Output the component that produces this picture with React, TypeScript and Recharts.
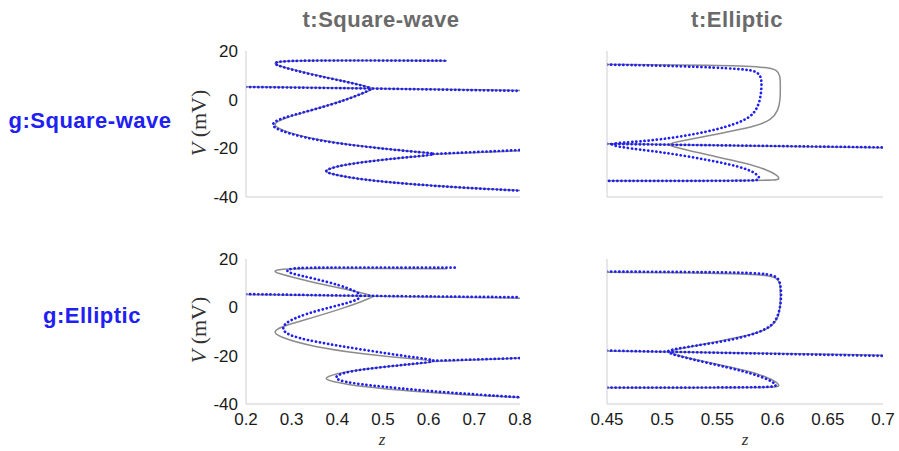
import { LineChart, Line, XAxis, YAxis } from "recharts";

// values as [z, V(mV)] pairs, in path order
const sqTargetMain: [number, number][] = [
  [0.64, 16.0], [0.5, 16.1], [0.35, 16.1], [0.285, 15.9], [0.258, 15.2], [0.27, 14.0],
  [0.3, 12.6], [0.347, 10.3], [0.42, 7.4], [0.465, 5.4], [0.483, 4.5], [0.466, 3.4],
  [0.42, 0.0], [0.347, -4.2], [0.285, -7.5], [0.258, -9.8], [0.27, -12.2], [0.347, -16.4],
  [0.457, -19.3], [0.566, -21.4], [0.634, -22.4], [0.566, -23.4], [0.493, -24.8],
  [0.406, -26.9], [0.368, -29.2], [0.384, -30.6], [0.457, -33.0], [0.566, -34.8],
  [0.675, -36.2], [0.8, -37.3],
];
const sqTargetFlatA: [number, number][] = [[0.2, 5.3], [0.483, 4.6], [0.8, 3.8]];
const sqTargetFlatB: [number, number][] = [[0.612, -22.4], [0.8, -21.0]];

const ellTargetMain: [number, number][] = [
  [0.45, 14.5], [0.55, 14.2], [0.595, 13.4], [0.604, 12.2], [0.607, 10.0], [0.607, 5.0],
  [0.607, 0.0], [0.605, -4.5], [0.599, -8.3], [0.585, -10.8], [0.565, -12.8], [0.534, -15.5],
  [0.515, -17.2], [0.504, -18.3], [0.512, -19.7], [0.543, -22.9], [0.575, -26.0],
  [0.595, -28.8], [0.604, -31.0], [0.607, -32.8], [0.6, -33.3], [0.45, -33.3],
];
const ellTargetFlat: [number, number][] = [[0.45, -18.1], [0.504, -18.4], [0.7, -19.8]];

// g:Square-wave response, t:Square-wave
const sqOnSqMain: [number, number][] = [
  [0.635, 16.0], [0.5, 16.1], [0.35, 16.1], [0.285, 15.9], [0.256, 15.2], [0.274, 13.6],
  [0.347, 10.1], [0.42, 7.4], [0.464, 5.3], [0.477, 4.6], [0.464, 3.3], [0.42, -0.1],
  [0.347, -4.2], [0.274, -7.7], [0.254, -10.0], [0.267, -12.5], [0.347, -16.6],
  [0.457, -19.3], [0.566, -21.4], [0.632, -22.3], [0.566, -23.4], [0.493, -24.8],
  [0.406, -26.9], [0.368, -29.2], [0.384, -30.5], [0.457, -33.0], [0.566, -34.8],
  [0.675, -36.2], [0.8, -37.4],
];
const sqOnSqFlatA: [number, number][] = [[0.2, 5.2], [0.477, 4.6], [0.8, 3.6]];
const sqOnSqFlatB: [number, number][] = [[0.61, -22.3], [0.8, -20.7]];

// g:Square-wave response, t:Elliptic
const sqOnEllMain: [number, number][] = [
  [0.45, 14.4], [0.52, 13.8], [0.575, 12.6], [0.586, 11.6], [0.59, 9.0], [0.59, 5.3],
  [0.589, -0.1], [0.584, -5.6], [0.573, -9.1], [0.543, -13.2], [0.498, -16.6],
  [0.462, -17.7], [0.451, -18.3], [0.462, -19.6], [0.498, -21.4], [0.543, -24.8],
  [0.577, -28.2], [0.587, -31.0], [0.589, -33.0], [0.58, -33.4], [0.45, -33.4],
];
const sqOnEllFlat: [number, number][] = [[0.45, -18.2], [0.7, -19.6]];

// g:Elliptic response, t:Square-wave
const ellOnSqMain: [number, number][] = [
  [0.657, 16.4], [0.5, 16.5], [0.33, 16.5], [0.296, 16.0], [0.288, 15.2], [0.296, 14.1],
  [0.347, 12.0], [0.406, 9.2], [0.442, 6.5], [0.455, 4.7], [0.442, 2.8], [0.391, 0.3],
  [0.333, -2.5], [0.289, -5.9], [0.278, -8.7], [0.289, -11.4], [0.347, -14.2],
  [0.457, -17.6], [0.566, -20.7], [0.632, -22.1], [0.566, -23.4], [0.493, -24.8],
  [0.42, -26.6], [0.391, -28.7], [0.406, -30.8], [0.493, -32.8], [0.639, -35.3],
  [0.8, -37.2],
];
const ellOnSqFlatA: [number, number][] = [[0.2, 5.5], [0.455, 4.7], [0.8, 4.2]];
const ellOnSqFlatB: [number, number][] = [[0.61, -22.1], [0.8, -21.0]];

// g:Elliptic response, t:Elliptic
const ellOnEllMain: [number, number][] = [
  [0.45, 14.8], [0.55, 14.6], [0.595, 14.1], [0.604, 12.6], [0.607, 10.5], [0.608, 5.0],
  [0.607, 0.3], [0.604, -5.2], [0.595, -9.4], [0.565, -13.5], [0.528, -16.0],
  [0.507, -17.6], [0.504, -18.3], [0.51, -19.7], [0.543, -23.2], [0.576, -26.6],
  [0.598, -30.0], [0.605, -32.6], [0.598, -33.2], [0.45, -33.2],
];
const ellOnEllFlat: [number, number][] = [[0.45, -17.9], [0.7, -20.1]];

const vTicks = [-40, -20, 0, 20];
const zTicksSquare = [0.2, 0.3, 0.4, 0.5, 0.6, 0.7, 0.8];
const zTicksElliptic = [0.45, 0.5, 0.55, 0.6, 0.65, 0.7];

const toPts = (arr: [number, number][]) => arr.map(([z, V]) => ({ z, V }));

const GRAY = "#8c8c8c";
const BLUE = "#1e1ef2";
const AXIS = "#cfcfcf";
const TICK_FONT = { fontSize: 17, fill: "#1a1a1a", fontFamily: "Liberation Sans, Arial, sans-serif" };

interface PanelProps {
  x0: number;
  y0: number;
  x1: number;
  y1: number;
  zDomain: [number, number];
  zTicks: number[];
  showZTicks: boolean;
  showVTicks: boolean;
  target: [number, number][][];
  response: [number, number][][];
}

const PAD_L = 60;
const PAD_R = 20;
const PAD_T = 10;
const PAD_B = 40;

const Panel = ({ x0, y0, x1, y1, zDomain, zTicks, showZTicks, showVTicks, target, response }: PanelProps) => {
  const width = x1 - x0 + PAD_L + PAD_R;
  const height = y1 - y0 + PAD_T + PAD_B;
  return (
    <div style={{ position: "absolute", left: x0 - PAD_L, top: y0 - PAD_T }}>
      <LineChart width={width} height={height} margin={{ top: PAD_T, right: PAD_R, left: 0, bottom: 0 }}>
        <XAxis
          type="number"
          dataKey="z"
          domain={zDomain}
          ticks={zTicks}
          allowDataOverflow
          height={PAD_B}
          stroke={AXIS}
          tickLine={false}
          tickMargin={3}
          tick={showZTicks ? TICK_FONT : false}
        />
        <YAxis
          type="number"
          dataKey="V"
          domain={[-40, 20]}
          ticks={vTicks}
          allowDataOverflow
          width={PAD_L}
          stroke={AXIS}
          tickLine={false}
          tick={showVTicks ? TICK_FONT : false}
        />
        {target.map((seg, i) => (
          <Line
            key={`t${i}`}
            data={toPts(seg)}
            dataKey="V"
            type="basis"
            stroke={GRAY}
            strokeWidth={1.5}
            dot={false}
            activeDot={false}
            isAnimationActive={false}
          />
        ))}
        {response.map((seg, i) => (
          <Line
            key={`r${i}`}
            data={toPts(seg)}
            dataKey="V"
            type="basis"
            stroke={BLUE}
            strokeWidth={2.7}
            strokeDasharray="0.1 4"
            strokeLinecap="round"
            dot={false}
            activeDot={false}
            isAnimationActive={false}
          />
        ))}
      </LineChart>
    </div>
  );
};

const titleStyle = {
  fontFamily: "Liberation Sans, Arial, sans-serif",
  fontWeight: 700,
  fontSize: 22,
  letterSpacing: 0.5,
};
const serif = "Liberation Serif, Times New Roman, serif";

const App = () => {
  const sqTarget = [sqTargetMain, sqTargetFlatA, sqTargetFlatB];
  const ellTarget = [ellTargetMain, ellTargetFlat];
  return (
    <div style={{ position: "absolute", left: 0, top: 0, width: 899, height: 451, background: "#fff", overflow: "hidden" }}>
      <Panel x0={246} y0={51} x1={520} y1={197} zDomain={[0.2, 0.8]} zTicks={zTicksSquare}
        showZTicks={false} showVTicks target={sqTarget} response={[sqOnSqMain, sqOnSqFlatA, sqOnSqFlatB]} />
      <Panel x0={607} y0={51} x1={883} y1={197} zDomain={[0.45, 0.7]} zTicks={zTicksElliptic}
        showZTicks={false} showVTicks={false} target={ellTarget} response={[sqOnEllMain, sqOnEllFlat]} />
      <Panel x0={246} y0={259} x1={520} y1={404} zDomain={[0.2, 0.8]} zTicks={zTicksSquare}
        showZTicks showVTicks target={sqTarget} response={[ellOnSqMain, ellOnSqFlatA, ellOnSqFlatB]} />
      <Panel x0={607} y0={259} x1={883} y1={404} zDomain={[0.45, 0.7]} zTicks={zTicksElliptic}
        showZTicks showVTicks={false} target={ellTarget} response={[ellOnEllMain, ellOnEllFlat]} />

      <svg width={899} height={451} style={{ position: "absolute", left: 0, top: 0, pointerEvents: "none" }}>
        <text x={381} y={27} textAnchor="middle" fill="#6a6a6a" style={titleStyle}>t:Square-wave</text>
        <text x={737} y={27} textAnchor="middle" fill="#6a6a6a" style={titleStyle}>t:Elliptic</text>
        <text x={90} y={128} textAnchor="middle" fill="#2020f5" style={titleStyle}>g:Square-wave</text>
        <text x={92} y={323} textAnchor="middle" fill="#2020f5" style={titleStyle}>g:Elliptic</text>

        {[123, 330].map((cy) => (
          <text key={cy} transform={`translate(206,${cy}) rotate(-90)`} textAnchor="middle"
            fill="#333" fontFamily={serif} fontSize={22}>
            <tspan fontStyle="italic">V</tspan> (mV)
          </text>
        ))}
        <text x={382} y={445} textAnchor="middle" fill="#333" fontFamily={serif} fontSize={17} fontStyle="italic">z</text>
        <text x={745} y={445} textAnchor="middle" fill="#333" fontFamily={serif} fontSize={17} fontStyle="italic">z</text>
      </svg>
    </div>
  );
};

export default App;
